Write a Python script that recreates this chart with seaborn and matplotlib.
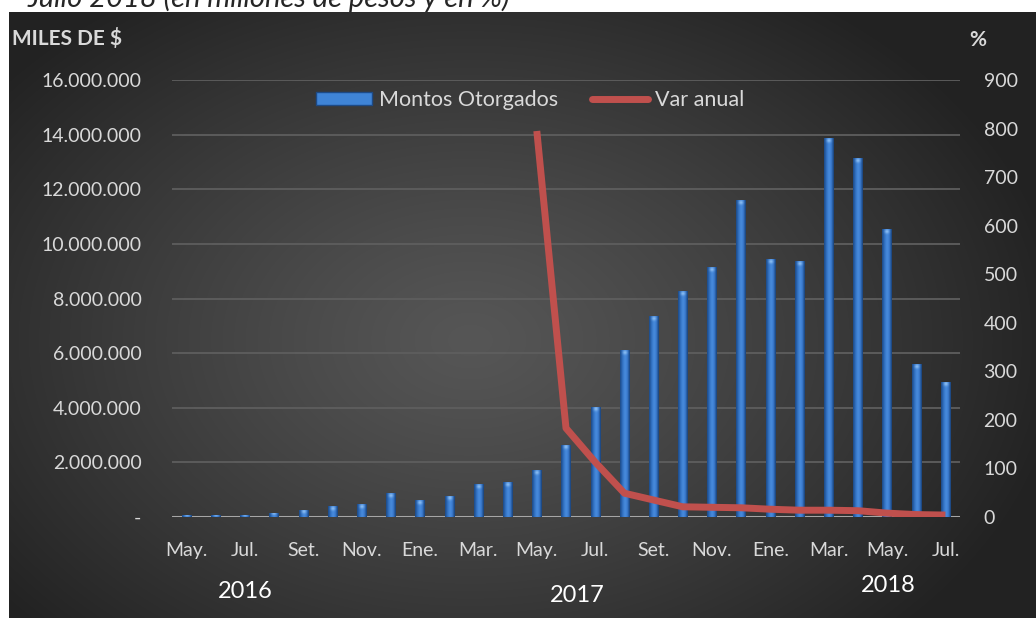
import numpy as np
import pandas as pd
import seaborn as sns
import matplotlib.pyplot as plt
from matplotlib.colors import LinearSegmentedColormap
from matplotlib.patches import Patch
from matplotlib.lines import Line2D
from matplotlib.transforms import blended_transform_factory

# ---- data -------------------------------------------------------------
meses = ["May. 2016", "Jun. 2016", "Jul. 2016", "Ago. 2016", "Set. 2016", "Oct. 2016",
         "Nov. 2016", "Dic. 2016", "Ene. 2017", "Feb. 2017", "Mar. 2017", "Abr. 2017",
         "May. 2017", "Jun. 2017", "Jul. 2017", "Ago. 2017", "Set. 2017", "Oct. 2017",
         "Nov. 2017", "Dic. 2017", "Ene. 2018", "Feb. 2018", "Mar. 2018", "Abr. 2018",
         "May. 2018", "Jun. 2018", "Jul. 2018"]

montos = [60000, 60000, 70000, 150000, 260000, 415000, 490000, 870000, 635000,
          780000, 1220000, 1290000, 1730000, 2640000, 4040000, 6120000, 7360000,
          8290000, 9170000, 11590000, 9450000, 9380000, 13890000, 13140000,
          10550000, 5600000, 4940000]

# annual variation (%) only exists from May 2017 on
var_anual = [np.nan] * 12 + [795, 183, 113, 49, 35, 21, 20, 19, 16, 14, 14, 13, 8, 5, 4]

anios = ["2016", "2017", "2018"]

# ---- style ------------------------------------------------------------
sns.set_theme(style="white")
plt.rcParams["font.family"] = ["Lato", "DejaVu Sans"]

TXT = "#d9d9d9"
W, H = 1036, 618
fig = plt.figure(figsize=(W / 100, H / 100), dpi=100)
fig.patch.set_facecolor("white")

# dark panel with a soft radial glow
x0, y0 = 9, 12
bg = fig.add_axes([x0 / W, 0, 1 - x0 / W, 1 - y0 / H], zorder=-10)
yy, xx = np.mgrid[0:H - y0, 0:W - x0]
cx, cy = 470 - x0, 340 - y0
r = np.sqrt(((xx - cx) / 600) ** 2 + ((yy - cy) / 420) ** 2)
t = np.clip(r, 0, 1)
c_in, c_out = 0x56, 0x22
v = (c_in + (c_out - c_in) * t ** 1.2) / 255
bg.imshow(np.dstack([v, v, v]), aspect="auto", extent=[0, 1, 0, 1])
bg.axis("off")

fig.text(28 / W, 1 - 7 / H, "Julio 2018 (en millones de pesos y en %)",
         style="italic", fontsize=21, color="#262626", va="baseline")

# ---- bars --------------------------------------------------------------
ax = fig.add_axes([172 / W, 1 - 517 / H, (960 - 172) / W, (517 - 80) / H])
ax.set_facecolor("none")
df = pd.DataFrame({"mes": meses, "monto": montos, "pos": np.arange(len(meses)),
                   "var": var_anual})
sns.barplot(data=df, x="mes", y="monto", color="#3a7bd0", width=0.32,
            saturation=1, ax=ax, zorder=3, linewidth=0, edgecolor="none")

ax.set_ylim(0, 16e6)

# cylinder-like shading inside each bar, with a light cap at the top
bar_cmap = LinearSegmentedColormap.from_list(
    "cyl", ["#1b4882", "#3070c2", "#4a8ddd", "#3a7bd0", "#173d70"])
grad = np.linspace(0, 1, 64).reshape(1, -1)
u = np.linspace(-1, 1, 32)
cap = np.zeros((16, 32, 4))
cap[..., 0], cap[..., 1], cap[..., 2] = 0.62, 0.80, 0.98
vert = np.exp(-((np.linspace(0, 1, 16) - 0.3) / 0.25) ** 2)[:, None]
horiz = np.exp(-(u / 0.45) ** 2)[None, :]
cap[..., 3] = 0.85 * vert * horiz
cap_h = 16e6 * 8 / 437
for p in list(ax.patches):
    bx, bw, bh = p.get_x(), p.get_width(), p.get_height()
    im = ax.imshow(grad, cmap=bar_cmap, extent=[bx, bx + bw, 0, bh],
                   aspect="auto", zorder=3.1, interpolation="bicubic")
    im.set_clip_path(p)
    top = ax.imshow(cap, extent=[bx, bx + bw, max(bh - cap_h, 0), bh],
                    aspect="auto", zorder=3.2, interpolation="bicubic")
    top.set_clip_path(p)

ax.set_ylim(0, 16e6)
yt = np.arange(0, 16e6 + 1, 2e6)
ax.set_yticks(yt)
ax.set_yticklabels(["-" if y == 0 else f"{y:,.0f}".replace(",", ".") for y in yt])
ax.set_xticks(range(0, len(meses), 2))
ax.set_xticklabels([m.split()[0] for m in meses[::2]])
ax.yaxis.grid(True, color="#5e5e5e", lw=1.3)
ax.set_axisbelow(True)
ax.axhline(0, color="#a6a6a6", lw=2.2, zorder=2.5)
ax.tick_params(axis="both", length=0, colors=TXT, labelsize=14)
ax.tick_params(axis="y", pad=22)
ax.tick_params(axis="x", pad=18, labelsize=14)
ax.set_xlabel("")
ax.set_ylabel("")
for s in ax.spines.values():
    s.set_visible(False)

# ---- annual variation line ---------------------------------------------
ax2 = ax.twinx()
sns.lineplot(data=df.dropna(), x="pos", y="var", ax=ax2, color="#c0504d", lw=5,
             solid_joinstyle="round", solid_capstyle="butt")
ax2.set_ylim(0, 900)
ax2.set_yticks(range(0, 901, 100))
ax2.tick_params(axis="y", length=0, colors=TXT, labelsize=14, pad=17)
ax2.set_xlabel("")
ax2.set_ylabel("")
for s in ax2.spines.values():
    s.set_visible(False)
ax.set_xlim(-0.5, len(meses) - 0.5)

# ---- axis titles, years, legend ----------------------------------------
fig.text(12 / W, 1 - 38 / H, "MILES DE $", fontsize=15, fontweight="bold",
         color=TXT, va="center", ha="left")
fig.text(978 / W, 1 - 40 / H, "%", fontsize=15, fontweight="bold",
         color=TXT, va="center", ha="center")

trans = blended_transform_factory(ax.transData, fig.transFigure)
for xpos, ypix, label in zip([2.0, 13.4, 24.05], [592, 595, 586], anios):
    ax.text(xpos, 1 - ypix / H, label, transform=trans, ha="center", va="center",
            fontsize=17, color="white")

handles = [Patch(facecolor="#3f84d6", edgecolor="#1d4a86", lw=1),
           Line2D([], [], color="#c0504d", lw=5)]
fig.legend(handles, ["Montos Otorgados", "Var anual"], loc="center",
           bbox_to_anchor=(530 / W, 1 - 100 / H), ncol=2, frameon=False,
           fontsize=15.5, labelcolor=TXT, handlelength=2.6, handleheight=0.55,
           handletextpad=0.3, columnspacing=1.6)

fig.savefig("out.png", dpi=100)
